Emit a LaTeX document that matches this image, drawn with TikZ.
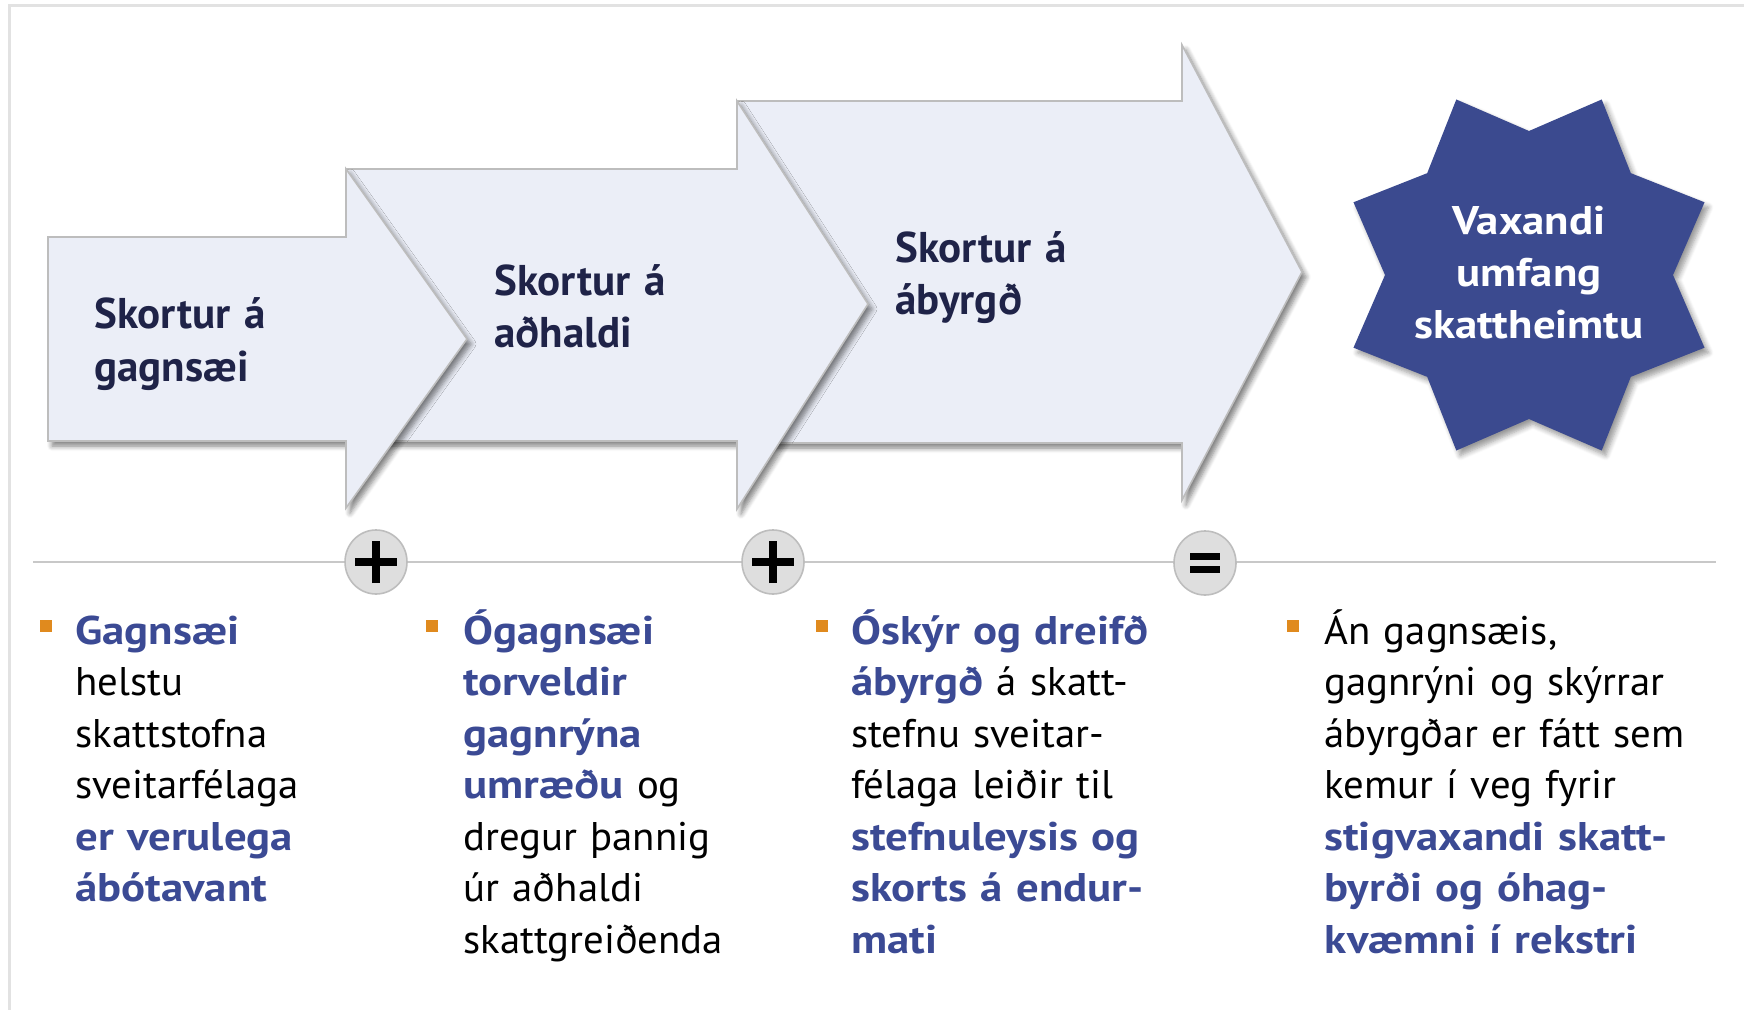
\documentclass[tikz,border=0pt]{standalone}
\usepackage{fontspec}
\setmainfont{PT Sans}[UprightFeatures={FakeStretch=1.02},BoldFeatures={FakeStretch=1.12}]
\newfontfamily\arrowfont{PT Sans}
\usetikzlibrary{shadows.blur,shapes.geometric}
\definecolor{arrowfill}{HTML}{EBEEF7}
\definecolor{arrowline}{HTML}{BDBDBD}
\definecolor{navy}{HTML}{1F2348}
\definecolor{starblue}{HTML}{3B4A8F}
\definecolor{txtblue}{HTML}{3B4A94}
\definecolor{bulletorange}{HTML}{E08A1E}
\definecolor{framegrey}{HTML}{E2E2E2}
\definecolor{rulegrey}{HTML}{C8C8C8}
\definecolor{opfill}{HTML}{DEDEDE}
\definecolor{opline}{HTML}{BDBDBD}
\newcommand{\hl}[1]{\textbf{\color{txtblue}#1}}
\begin{document}
\begin{tikzpicture}[x=0.5pt,y=-0.5pt,
  arrowshape/.style={fill=arrowfill,draw=arrowline,line width=0.8pt,line join=miter,
    blur shadow={shadow xshift=2pt,shadow yshift=-2.5pt,shadow blur radius=2.5pt,shadow blur steps=6,shadow opacity=50}},
  starshape/.style={fill=starblue,draw=none,
    blur shadow={shadow xshift=2pt,shadow yshift=-2.5pt,shadow blur radius=2.5pt,shadow blur steps=6,shadow opacity=40}},
  arrowtext/.style={anchor=base west,inner sep=0pt,text width=200pt,align=left,text=navy,
    font=\arrowfont\fontsize{21.5}{26}\selectfont\bfseries},
  startext/.style={inner sep=0pt,align=center,text=white,font=\fontsize{20}{26}\selectfont\bfseries},
  opcircle/.style={ellipse,minimum width=31pt,minimum height=32pt,inner sep=0pt,fill=opfill,draw=opline,line width=0.8pt},
  opsign/.style={line width=3.6pt,black},
  bulletsq/.style={rectangle,minimum width=6pt,minimum height=6pt,inner sep=0pt,fill=bulletorange},
  coltext/.style={anchor=base west,inner sep=0pt,text width=220pt,align=left,text=black,
    font=\fontsize{20}{25.75}\selectfont},
]
\useasboundingbox (0,0) rectangle (1744,1010);
% frame
\draw[framegrey,line width=1.5pt] (9,1010) -- (9,6) -- (1744,6);

% arrows (drawn back to front)
\path[arrowshape] (737,101) -- (1182,101) -- (1182,45) -- (1302,272) -- (1182,500) -- (1182,443) -- (737,443) -- cycle;
\path[arrowshape] (346,169) -- (737,169) -- (737,101) -- (868,304) -- (737,509) -- (737,441) -- (346,441) -- cycle;
\path[arrowshape] (48,237) -- (346,237) -- (346,169) -- (467,339) -- (346,508) -- (346,441) -- (48,441) -- cycle;

\node[arrowtext] (a1) at (94,329) {Skortur á\\gagnsæi};
\node[arrowtext] (a2) at (494,296) {Skortur á\\aðhaldi};
\node[arrowtext] (a3) at (895,263) {Skortur á\\ábyrgð};

% star
\begin{scope}[shift={(1529,275)}]
\path[starshape] (22.5:190) -- (45:144) -- (67.5:190) -- (90:144) -- (112.5:190) -- (135:144)
  -- (157.5:190) -- (180:144) -- (202.5:190) -- (225:144) -- (247.5:190) -- (270:144)
  -- (292.5:190) -- (315:144) -- (337.5:190) -- (0:144) -- cycle;
\end{scope}
\node[startext] (st) at (1529,273) {Vaxandi\\umfang\\skattheimtu};

% rule and operators
\coordinate (rl) at (33,562);
\coordinate (rr) at (1716,562);
\draw[rulegrey,line width=1pt] (rl) -- (rr);
\node[opcircle] (p1) at (376,562) {};
\node[opcircle] (p2) at (773,562) {};
\node[opcircle] (eq) at (1205,563) {};
\draw[opsign] ([xshift=-10.5pt]p1.center) -- ([xshift=10.5pt]p1.center);
\draw[opsign] ([yshift=-10.5pt]p1.center) -- ([yshift=10.5pt]p1.center);
\draw[opsign] ([xshift=-10.5pt]p2.center) -- ([xshift=10.5pt]p2.center);
\draw[opsign] ([yshift=-10.5pt]p2.center) -- ([yshift=10.5pt]p2.center);
\draw[opsign,line width=3.4pt] ([xshift=-7.5pt,yshift=3.3pt]eq.center) -- ([xshift=7.5pt,yshift=3.3pt]eq.center);
\draw[opsign,line width=3.4pt] ([xshift=-7.5pt,yshift=-3.3pt]eq.center) -- ([xshift=7.5pt,yshift=-3.3pt]eq.center);

% bullets
\node[bulletsq] (b1) at (45.5,625.5) {};
\node[bulletsq] (b2) at (431.5,625.5) {};
\node[bulletsq] (b3) at (821.5,625.5) {};
\node[bulletsq] (b4) at (1292.5,625.5) {};

\node[coltext] (c1) at (75,644) {\hl{Gagnsæi}\\helstu\\skattstofna\\sveitarfélaga\\\hl{er verulega}\\\hl{ábótavant}};
\node[coltext] (c2) at (463,644) {\hl{Ógagnsæi}\\\hl{torveldir}\\\hl{gagnrýna}\\\hl{umræðu} og\\dregur þannig\\úr aðhaldi\\skattgreiðenda};
\node[coltext] (c3) at (851,644) {\hl{Óskýr og dreifð}\\\hl{ábyrgð} á skatt-\\stefnu sveitar-\\félaga leiðir til\\\hl{stefnuleysis og}\\\hl{skorts á endur-}\\\hl{mati}};
\node[coltext] (c4) at (1324,644) {Án gagnsæis,\\gagnrýni og skýrrar\\ábyrgðar er fátt sem\\kemur í veg fyrir\\\hl{stigvaxandi skatt-}\\\hl{byrði og óhag-}\\\hl{kvæmni í rekstri}};
\end{tikzpicture}
\end{document}
